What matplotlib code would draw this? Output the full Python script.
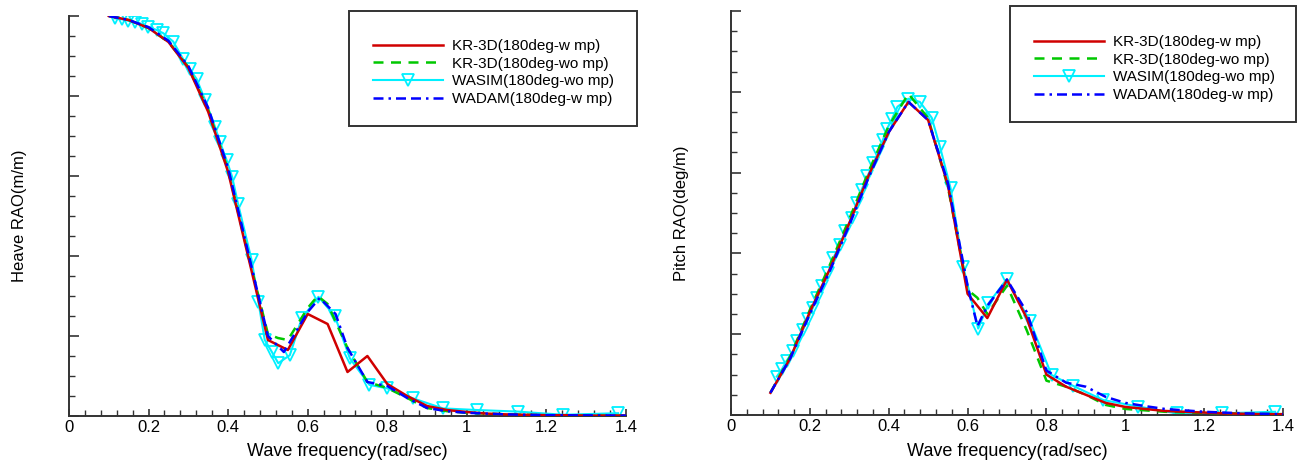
import matplotlib
matplotlib.use("Agg")
import matplotlib.pyplot as plt
from matplotlib.ticker import MultipleLocator, NullFormatter, FormatStrFormatter
from matplotlib.patches import Rectangle

plt.rcParams['font.family'] = ['Liberation Sans', 'DejaVu Sans']

# ---------------- data ----------------
labels = ['KR-3D(180deg-w mp)', 'KR-3D(180deg-wo mp)',
          'WASIM(180deg-wo mp)', 'WADAM(180deg-w mp)']

# Heave RAO
heave_kr_w_x = [0.10, 0.15, 0.20, 0.25, 0.30, 0.35, 0.40, 0.45, 0.50, 0.55, 0.60, 0.65,
                0.70, 0.75, 0.80, 0.85, 0.90, 0.95, 1.00, 1.05, 1.10, 1.15, 1.20, 1.25,
                1.30, 1.35, 1.40]
heave_kr_w_y = [1.0, 0.99, 0.97, 0.935, 0.87, 0.76, 0.61, 0.40, 0.19, 0.165, 0.255, 0.23,
                0.11, 0.15, 0.08, 0.05, 0.025, 0.015, 0.01, 0.006, 0.004, 0.003, 0.002,
                0.002, 0.001, 0.001, 0.001]

heave_kr_wo_x = [0.10, 0.15, 0.20, 0.25, 0.30, 0.35, 0.40, 0.45, 0.50, 0.525, 0.55, 0.60,
                 0.625, 0.65, 0.70, 0.75, 0.80, 0.85, 0.90, 0.95, 1.00, 1.10, 1.20, 1.30, 1.40]
heave_kr_wo_y = [1.0, 0.99, 0.97, 0.935, 0.872, 0.765, 0.615, 0.405, 0.205, 0.195, 0.19,
                 0.27, 0.30, 0.28, 0.17, 0.085, 0.07, 0.045, 0.02, 0.012, 0.008, 0.004,
                 0.002, 0.001, 0.001]

heave_wasim_x = [0.116, 0.132, 0.149, 0.166, 0.183, 0.199, 0.22, 0.237, 0.262, 0.287, 0.304,
                 0.321, 0.342, 0.367, 0.379, 0.396, 0.41, 0.425, 0.459, 0.476, 0.492, 0.51,
                 0.526, 0.555, 0.585, 0.627, 0.668, 0.706, 0.755, 0.80, 0.865, 0.94, 1.025,
                 1.129, 1.242, 1.38]
heave_wasim_y = [0.994, 0.992, 0.988, 0.985, 0.98, 0.973, 0.965, 0.957, 0.936, 0.892, 0.867,
                 0.842, 0.79, 0.723, 0.686, 0.64, 0.598, 0.53, 0.39, 0.286, 0.19, 0.16,
                 0.132, 0.152, 0.244, 0.298, 0.25, 0.144, 0.078, 0.069, 0.044, 0.019, 0.015,
                 0.011, 0.003, 0.007]

heave_wadam_x = [0.10, 0.15, 0.20, 0.25, 0.30, 0.35, 0.40, 0.45, 0.50, 0.54, 0.60, 0.63,
                 0.67, 0.70, 0.75, 0.80, 0.85, 0.90, 0.95, 1.00, 1.10, 1.20, 1.40]
heave_wadam_y = [1.0, 0.99, 0.972, 0.938, 0.875, 0.77, 0.62, 0.41, 0.20, 0.16, 0.26, 0.295,
                 0.255, 0.17, 0.085, 0.075, 0.045, 0.02, 0.012, 0.008, 0.004, 0.002, 0.001]

# Pitch RAO
pitch_kr_w_x = [0.10, 0.15, 0.20, 0.25, 0.30, 0.35, 0.40, 0.45, 0.50, 0.55, 0.60, 0.65,
                0.70, 0.75, 0.80, 0.85, 0.90, 0.95, 1.00, 1.05, 1.10, 1.15, 1.20, 1.25,
                1.30, 1.35, 1.40]
pitch_kr_w_y = [0.055, 0.14, 0.255, 0.36, 0.475, 0.595, 0.70, 0.775, 0.73, 0.57, 0.30, 0.24,
                0.335, 0.24, 0.10, 0.07, 0.05, 0.03, 0.02, 0.015, 0.01, 0.008, 0.006, 0.004,
                0.003, 0.002, 0.002]

pitch_kr_wo_x = [0.10, 0.15, 0.20, 0.25, 0.30, 0.35, 0.40, 0.45, 0.50, 0.55, 0.60, 0.625,
                 0.65, 0.70, 0.75, 0.80, 0.85, 0.90, 0.95, 1.00, 1.10, 1.20, 1.30, 1.40]
pitch_kr_wo_y = [0.055, 0.145, 0.26, 0.37, 0.485, 0.605, 0.715, 0.795, 0.735, 0.565, 0.31,
                 0.29, 0.25, 0.32, 0.21, 0.085, 0.07, 0.05, 0.025, 0.015, 0.008, 0.005,
                 0.003, 0.002]

pitch_wasim_x = [0.116, 0.129, 0.141, 0.158, 0.167, 0.182, 0.195, 0.207, 0.219, 0.232, 0.247,
                 0.259, 0.276, 0.289, 0.306, 0.319, 0.331, 0.346, 0.361, 0.374, 0.385, 0.395,
                 0.408, 0.422, 0.45, 0.479, 0.509, 0.53, 0.557, 0.589, 0.627, 0.653, 0.699,
                 0.758, 0.813, 0.868, 0.944, 1.033, 1.13, 1.245, 1.38]
pitch_wasim_y = [0.095, 0.113, 0.134, 0.159, 0.184, 0.21, 0.237, 0.264, 0.29, 0.319, 0.352,
                 0.388, 0.42, 0.455, 0.487, 0.524, 0.557, 0.591, 0.623, 0.651, 0.68, 0.707,
                 0.732, 0.763, 0.783, 0.775, 0.736, 0.664, 0.561, 0.367, 0.214, 0.276, 0.336,
                 0.233, 0.099, 0.072, 0.037, 0.021, 0.004, 0.004, 0.008]

pitch_wadam_x = [0.10, 0.15, 0.20, 0.25, 0.30, 0.35, 0.40, 0.45, 0.50, 0.55, 0.60, 0.625,
                 0.65, 0.70, 0.75, 0.80, 0.85, 0.90, 0.95, 1.00, 1.05, 1.10, 1.20, 1.30, 1.40]
pitch_wadam_y = [0.055, 0.14, 0.25, 0.355, 0.47, 0.59, 0.70, 0.775, 0.73, 0.575, 0.32, 0.22,
                 0.27, 0.335, 0.255, 0.11, 0.08, 0.07, 0.045, 0.03, 0.022, 0.015, 0.008,
                 0.004, 0.002]

# ---------------- styles ----------------
RED = '#d00000'
GREEN = '#00c800'
CYAN = '#00f0ff'
BLUE = '#0000ff'
FS = 11


def draw_panel(ax, series, ylabel):
    (kw_x, kw_y), (kwo_x, kwo_y), (ws_x, ws_y), (wd_x, wd_y) = series
    h1, = ax.plot(kw_x, kw_y, color=RED, lw=1.8, zorder=4)
    h2, = ax.plot(kwo_x, kwo_y, color=GREEN, lw=1.8, dashes=(4, 3), zorder=3)
    h3, = ax.plot(ws_x, ws_y, color=CYAN, lw=1.5, marker='v', markersize=9,
                  markerfacecolor='none', markeredgecolor=CYAN, markeredgewidth=1.3, zorder=2)
    h4, = ax.plot(wd_x, wd_y, color=BLUE, lw=1.8, dashes=(4, 2, 1, 2, 4, 2), zorder=5)

    ax.set_xlim(0, 1.4)
    ax.set_ylim(0, 1.0)
    for s in ['top', 'right']:
        ax.spines[s].set_visible(False)
    for s in ['left', 'bottom']:
        ax.spines[s].set_linewidth(1.4)
        ax.spines[s].set_color('#333333')

    ax.xaxis.set_major_locator(MultipleLocator(0.2))
    ax.xaxis.set_minor_locator(MultipleLocator(0.04))
    ax.yaxis.set_major_locator(MultipleLocator(0.2))
    ax.yaxis.set_minor_locator(MultipleLocator(0.05))
    ax.xaxis.set_major_formatter(FormatStrFormatter('%g'))
    ax.yaxis.set_major_formatter(NullFormatter())

    ax.tick_params(axis='x', which='major', direction='in', length=5, width=1.2,
                   color='#333333', labelsize=12, pad=3)
    ax.tick_params(axis='x', which='minor', direction='in', length=4, width=1.0,
                   color='#333333')
    ax.tick_params(axis='y', which='major', direction='in', length=7, width=1.2,
                   color='#333333')
    ax.tick_params(axis='y', which='minor', direction='in', length=4, width=1.0,
                   color='#333333')

    ax.set_xlabel('Wave frequency(rad/sec)', fontsize=13, labelpad=6)
    ax.set_ylabel(ylabel, fontsize=12, labelpad=27)
    return [h1, h2, h3, h4]


def add_legend(fig, handles, box, anchor):
    W, H = fig.get_size_inches() * fig.dpi
    x0, y0, x1, y1 = box
    rect = Rectangle((x0 / W, 1 - y1 / H), (x1 - x0) / W, (y1 - y0) / H,
                     transform=fig.transFigure, fill=False, edgecolor='#333333',
                     linewidth=1.4, zorder=10)
    fig.patches.append(rect)
    fig.legend(handles, labels, loc='upper left',
               bbox_to_anchor=(anchor[0] / W, 1 - anchor[1] / H),
               frameon=False, fontsize=FS, handlelength=4.6, handletextpad=0.6,
               labelspacing=0.24, borderpad=0, borderaxespad=0)


fig = plt.figure(figsize=(13.02, 4.61), dpi=100)
ax1 = fig.add_axes([69 / 1302, 1 - 416 / 461, (626 - 69) / 1302, 400 / 461])
ax2 = fig.add_axes([731 / 1302, 1 - 415 / 461, (1283 - 731) / 1302, 404 / 461])

hs1 = draw_panel(ax1, [(heave_kr_w_x, heave_kr_w_y), (heave_kr_wo_x, heave_kr_wo_y),
                       (heave_wasim_x, heave_wasim_y), (heave_wadam_x, heave_wadam_y)],
                 'Heave RAO(m/m)')
hs2 = draw_panel(ax2, [(pitch_kr_w_x, pitch_kr_w_y), (pitch_kr_wo_x, pitch_kr_wo_y),
                       (pitch_wasim_x, pitch_wasim_y), (pitch_wadam_x, pitch_wadam_y)],
                 'Pitch RAO(deg/m)')

add_legend(fig, hs1, (349, 11, 637, 126), (373, 39))
add_legend(fig, hs2, (1010, 6, 1296, 122), (1034, 35))

fig.savefig('out.png', dpi=100, facecolor='white')
